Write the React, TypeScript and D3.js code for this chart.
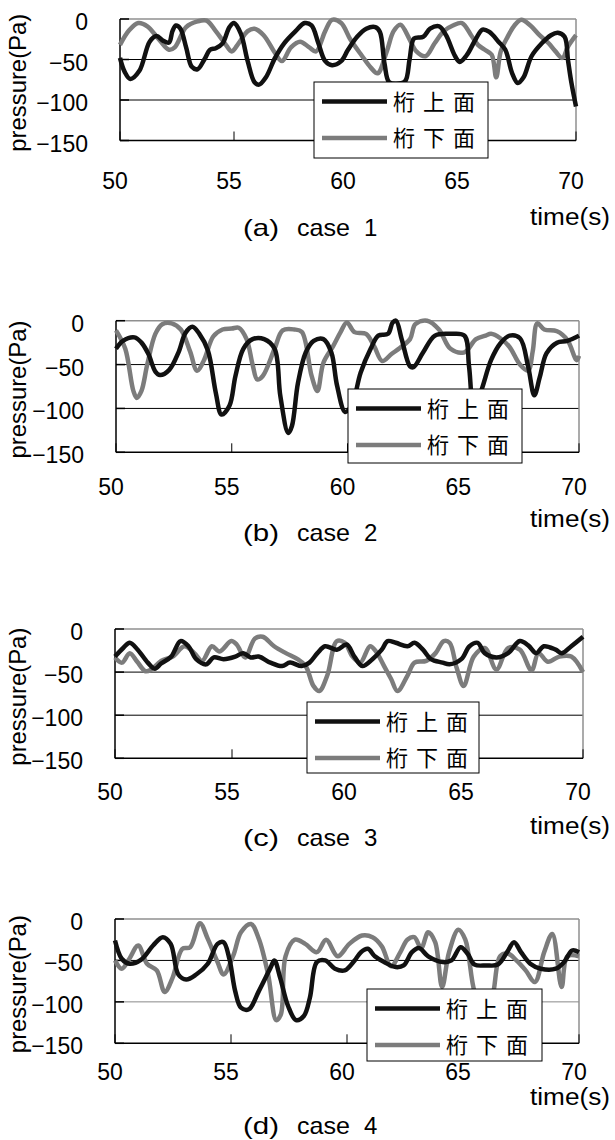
import React from 'react';
import * as d3 from 'd3';

// time (s), pressure (Pa)
const caseAUpper: [number, number][] = [
  [50.0, -48], [50.2, -65], [50.45, -74], [50.85, -64], [51.3, -28], [51.6, -21], [51.9, -27], [52.15, -29],
  [52.3, -15], [52.45, -8], [52.65, -12], [52.9, -35], [53.15, -59], [53.4, -62], [53.7, -50], [53.95, -38],
  [54.2, -36], [54.5, -30], [54.8, -10], [55.0, -5], [55.3, -18], [55.6, -52], [55.9, -78], [56.1, -81],
  [56.4, -72], [56.8, -48], [57.2, -30], [57.7, -15], [58.1, -5], [58.4, -8], [58.7, -30], [59.0, -52],
  [59.3, -57], [59.7, -52], [60.0, -38], [60.4, -22], [60.8, -12], [61.2, -10], [61.4, -16], [61.6, -55],
  [61.8, -78], [62.1, -80], [62.5, -77], [62.7, -50], [62.9, -24], [63.3, -22], [63.6, -12], [64.0, -9],
  [64.3, -20], [64.7, -46], [64.9, -53], [65.2, -45], [65.6, -25], [65.9, -13], [66.2, -16], [66.6, -28],
  [66.9, -38], [67.2, -67], [67.45, -79], [67.7, -72], [68.05, -46], [68.5, -30], [68.9, -20], [69.2, -17],
  [69.5, -22], [69.65, -51], [69.8, -79], [70.0, -108],
];
const caseALower: [number, number][] = [
  [50.0, -32], [50.4, -14], [50.8, -5], [51.2, -9], [51.7, -25], [52.15, -38], [52.4, -35], [52.9, -10],
  [53.4, -3], [53.8, -2], [54.2, -15], [54.6, -30], [54.9, -40], [55.2, -30], [55.6, -15], [55.9, -12],
  [56.3, -20], [56.8, -42], [57.1, -52], [57.5, -35], [57.9, -28], [58.3, -35], [58.6, -40], [59.0, -15],
  [59.3, -1], [59.7, -5], [60.1, -25], [60.6, -45], [61.0, -60], [61.3, -67], [61.7, -40], [62.0, -15],
  [62.3, -7], [62.7, -25], [63.0, -40], [63.4, -46], [63.8, -30], [64.2, -15], [64.6, -8], [65.0, -5],
  [65.4, -20], [65.7, -32], [66.0, -38], [66.3, -44], [66.5, -72], [66.7, -40], [67.0, -22], [67.3, -8],
  [67.6, -1], [68.0, -8], [68.4, -20], [68.8, -30], [69.1, -40], [69.4, -48], [69.65, -34], [70.0, -20],
];

const caseBUpper: [number, number][] = [
  [50.0, -32], [50.3, -23], [50.8, -19], [51.1, -25], [51.4, -38], [51.7, -58], [51.9, -62], [52.3, -56],
  [52.7, -36], [53.0, -14], [53.3, -7], [53.6, -15], [53.97, -34], [54.31, -82], [54.56, -107], [54.9, -97],
  [55.16, -63], [55.5, -32], [55.9, -21], [56.4, -21], [56.85, -32], [57.1, -86], [57.44, -128], [57.6, -120],
  [57.86, -71], [58.2, -36], [58.54, -23], [58.96, -21], [59.3, -36], [59.55, -74], [59.9, -104], [60.2, -95],
  [60.57, -59], [61.0, -32], [61.33, -17], [61.75, -15], [61.95, -2], [62.1, 0], [62.34, -21], [62.7, -52],
  [62.85, -53], [63.27, -36], [63.78, -17], [64.45, -15], [65.05, -17], [65.25, -52], [65.45, -95], [65.7, -85],
  [66.2, -45], [66.6, -26], [67.0, -17], [67.45, -20], [67.8, -52], [68.07, -85], [68.3, -65], [68.6, -37],
  [69.05, -25], [69.5, -23], [70.0, -17],
];
const caseBLower: [number, number][] = [
  [50.0, -11], [50.4, -32], [50.75, -80], [50.9, -88], [51.1, -80], [51.35, -50], [51.7, -15], [52.0, -4],
  [52.4, -3], [52.8, -10], [53.2, -35], [53.5, -57], [53.8, -45], [54.2, -18], [54.6, -10], [55.0, -9],
  [55.3, -8], [55.64, -21], [55.9, -50], [56.1, -67], [56.34, -63], [56.85, -32], [57.2, -11], [57.7, -10],
  [58.03, -13], [58.45, -63], [58.7, -80], [58.96, -48], [59.38, -29], [59.7, -13], [59.97, -2], [60.3, -13],
  [60.8, -15], [61.15, -29], [61.5, -46], [61.9, -38], [62.26, -31], [62.7, -21], [62.93, -4], [63.44, 0],
  [63.95, -10], [64.45, -32], [65.05, -36], [65.55, -21], [65.97, -17], [66.2, -15], [66.6, -20], [67.0, -30],
  [67.45, -50], [67.8, -57], [68.0, -35], [68.2, -3], [68.5, -10], [69.05, -12], [69.5, -22], [69.9, -45],
  [70.0, -40],
];

const caseCUpper: [number, number][] = [
  [50.0, -32], [50.35, -22], [50.63, -16], [50.97, -24], [51.4, -39], [51.7, -46], [51.97, -40], [52.4, -32],
  [52.8, -14], [53.14, -20], [53.47, -35], [53.9, -41], [54.22, -33], [54.64, -35], [55.14, -32], [55.48, -28],
  [55.8, -33], [56.14, -32], [56.64, -39], [57.14, -43], [57.48, -39], [57.98, -43], [58.31, -39], [58.65, -28],
  [58.98, -20], [59.48, -24], [59.9, -18], [60.23, -32], [60.57, -43], [61.0, -35], [61.4, -24], [61.65, -14],
  [62.0, -16], [62.5, -20], [62.8, -16], [63.16, -24], [63.5, -35], [64.0, -39], [64.3, -41], [64.8, -35],
  [65.15, -20], [65.5, -16], [65.8, -28], [66.3, -33], [66.8, -28], [67.3, -14], [67.66, -19], [68.0, -28],
  [68.33, -20], [68.83, -24], [69.1, -28], [69.5, -20], [70.0, -9],
];
const caseCLower: [number, number][] = [
  [50.0, -33], [50.3, -39], [50.63, -28], [50.95, -38], [51.3, -49], [51.55, -47], [51.97, -37], [52.47, -32],
  [52.97, -20], [53.39, -28], [53.72, -37], [54.14, -20], [54.47, -26], [54.97, -14], [55.2, -18], [55.56, -33],
  [55.98, -11], [56.31, -9], [56.8, -20], [57.3, -28], [57.8, -35], [58.15, -43], [58.48, -66], [58.73, -72],
  [59.07, -54], [59.48, -14], [59.82, -16], [60.15, -32], [60.48, -39], [60.9, -20], [61.15, -26], [61.5, -43],
  [61.8, -58], [62.07, -72], [62.5, -54], [62.8, -39], [63.3, -37], [63.7, -28], [64.05, -14], [64.3, -16],
  [64.6, -45], [64.9, -66], [65.33, -32], [65.8, -22], [66.3, -47], [66.8, -22], [67.3, -24], [67.8, -48],
  [68.1, -28], [68.5, -38], [68.99, -32], [69.5, -32], [70.0, -50],
];

const caseDUpper: [number, number][] = [
  [50.0, -26], [50.29, -48], [50.62, -54], [51.13, -49], [51.64, -32], [52.06, -22], [52.4, -30], [52.73, -67],
  [53.07, -73], [53.5, -67], [54.0, -54], [54.42, -30], [54.68, -28], [54.93, -48], [55.18, -87], [55.43, -107],
  [55.77, -109], [56.2, -87], [56.7, -59], [56.87, -50], [57.12, -71], [57.46, -105], [57.8, -122], [58.14, -117],
  [58.4, -95], [58.7, -52], [59.06, -50], [59.48, -60], [59.9, -62], [60.33, -50], [60.6, -40], [60.9, -36],
  [61.2, -45], [61.6, -52], [62.1, -58], [62.44, -56], [62.8, -40], [63.1, -35], [63.5, -45], [64.13, -52],
  [64.5, -50], [64.9, -34], [65.2, -42], [65.5, -55], [66.0, -56], [66.5, -55], [66.9, -40], [67.2, -28],
  [67.5, -40], [67.9, -54], [68.35, -60], [69.0, -60], [69.36, -52], [69.7, -38], [70.0, -40],
];
const caseDLower: [number, number][] = [
  [50.0, -50], [50.29, -60], [50.62, -48], [51.0, -32], [51.38, -54], [51.8, -62], [52.14, -88], [52.48, -71],
  [52.9, -36], [53.24, -34], [53.66, -5], [54.0, -24], [54.42, -52], [54.68, -67], [55.1, -44], [55.43, -16],
  [55.86, -6], [56.2, -24], [56.6, -67], [56.95, -122], [57.15, -115], [57.35, -45], [57.75, -25], [58.2, -30],
  [58.7, -40], [59.1, -25], [59.6, -45], [60.1, -30], [60.65, -20], [61.1, -22], [61.5, -33], [61.9, -57],
  [62.3, -40], [62.6, -25], [62.9, -22], [63.2, -35], [63.5, -16], [63.8, -28], [64.1, -82], [64.4, -40],
  [64.8, -13], [65.1, -25], [65.5, -88], [65.9, -110], [66.25, -95], [66.6, -45], [66.95, -42], [67.3, -50],
  [67.7, -62], [68.1, -76], [68.5, -40], [68.85, -18], [69.25, -82], [69.5, -45], [70.0, -45],
];

const xTicks = [50, 55, 60, 65, 70];
const yTicks = [0, -50, -100, -150];
const seriesNames = ['桁上面', '桁下面'];
const captionTags = ['(a)', '(b)', '(c)', '(d)'];
const caseNumbers = ['1', '2', '3', '4'];

const panels = [
  { upper: caseAUpper, lower: caseALower, left: 120, right: 576, top: 19, bottom: 140.5,
    legend: [314, 82, 174, 76], tickY: 189, timeY: 225, captionY: 236, grid2: '#000' },
  { upper: caseBUpper, lower: caseBLower, left: 116, right: 579, top: 320.7, bottom: 452.3,
    legend: [348, 389, 174, 74], tickY: 495, timeY: 527, captionY: 541, grid2: '#000' },
  { upper: caseCUpper, lower: caseCLower, left: 115, right: 583, top: 629, bottom: 758.3,
    legend: [307, 702, 172, 71], tickY: 800, timeY: 834, captionY: 846, grid2: '#000' },
  { upper: caseDUpper, lower: caseDLower, left: 115, right: 579, top: 919, bottom: 1043.3,
    legend: [367, 989, 175, 72], tickY: 1080, timeY: 1105, captionY: 1134, grid2: '#888' },
];

const DARK = '#111';
const GRAY = '#7c7c7c';
const FRAME_GRAY = '#8f8f8f';
const LATIN = '"Liberation Sans", Arial, sans-serif';
const CJK = '"Noto Sans CJK JP", sans-serif';

const Panel = ({ p, idx }: { p: typeof panels[number]; idx: number }) => {
  const x = d3.scaleLinear().domain([50, 70]).range([p.left, p.right]);
  const y = d3.scaleLinear().domain([-150, 0]).range([p.bottom, p.top]);
  const line = d3
    .line<[number, number]>()
    .x((d) => x(d[0]))
    .y((d) => y(d[1]))
    .curve(d3.curveCatmullRom.alpha(0.5));
  const [lx, ly, lw, lh] = p.legend;
  const midY = (p.top + p.bottom) / 2 + 3;

  return (
    <g>
      {/* gridlines */}
      <line x1={p.left} x2={p.right} y1={y(-50)} y2={y(-50)} stroke="#000" strokeWidth={1} />
      <line x1={p.left} x2={p.right} y1={y(-100)} y2={y(-100)} stroke={p.grid2} strokeWidth={1} />
      {/* frame: grey top/right, black left/bottom */}
      <line x1={p.left} x2={p.right} y1={p.top} y2={p.top} stroke={FRAME_GRAY} strokeWidth={1.5} />
      <line x1={p.right} x2={p.right} y1={p.top} y2={p.bottom} stroke={FRAME_GRAY} strokeWidth={1.5} />
      <line x1={p.left} x2={p.left} y1={p.top} y2={p.bottom} stroke="#000" strokeWidth={1.5} />
      <line x1={p.left} x2={p.right} y1={p.bottom} y2={p.bottom} stroke="#000" strokeWidth={1.5} />
      {/* inner ticks */}
      {xTicks.map((t) => (
        <line key={'xt' + t} x1={x(t)} x2={x(t)} y1={p.bottom} y2={p.bottom - 9} stroke="#000" strokeWidth={1} />
      ))}
      {yTicks.map((t) => (
        <line key={'yt' + t} x1={p.left} x2={p.left + 9} y1={y(t)} y2={y(t)} stroke="#000" strokeWidth={1.5} />
      ))}
      {/* series */}
      <path d={line(p.lower) || ''} fill="none" stroke={GRAY} strokeWidth={4.5} strokeLinejoin="round" />
      <path d={line(p.upper) || ''} fill="none" stroke={DARK} strokeWidth={4.5} strokeLinejoin="round" />
      {/* tick labels */}
      {xTicks.map((t) => (
        <text key={'xl' + t} x={x(t) - 5} y={p.tickY} textAnchor="middle" fontSize={23} fontFamily={LATIN}>
          {t}
        </text>
      ))}
      {yTicks.map((t) => (
        <text key={'yl' + t} x={p.left - 32} y={y(t) + 11} textAnchor="end" fontSize={23} fontFamily={LATIN}>
          {t < 0 ? '\u2212' + Math.abs(t) : t}
        </text>
      ))}
      {/* axis titles */}
      <text
        transform={`translate(25.5,${midY}) rotate(-90)`}
        textAnchor="middle"
        fontSize={24}
        fontFamily={LATIN}
        textLength={138}
        lengthAdjust="spacingAndGlyphs"
      >
        pressure(Pa)
      </text>
      <text
        x={610}
        y={p.timeY}
        textAnchor="end"
        fontSize={23}
        fontFamily={LATIN}
        textLength={80}
        lengthAdjust="spacingAndGlyphs"
      >
        time(s)
      </text>
      <g fontSize={24} fontFamily={LATIN}>
        <text x={243} y={p.captionY} textLength={36} lengthAdjust="spacingAndGlyphs">{captionTags[idx]}</text>
        <text x={297} y={p.captionY} textLength={53} lengthAdjust="spacingAndGlyphs">case</text>
        <text x={364} y={p.captionY}>{caseNumbers[idx]}</text>
      </g>
      {/* legend */}
      <rect x={lx} y={ly} width={lw} height={lh} fill="#fff" stroke="#000" strokeWidth={1} />
      {seriesNames.map((name, i) => {
        const rowY = ly + 19.5 + i * 36.5;
        return (
          <g key={name}>
            <line x1={lx + 8} x2={lx + 73} y1={rowY} y2={rowY} stroke={i === 0 ? DARK : GRAY} strokeWidth={4.5} />
            <text x={lx + 79} y={rowY + 8} fontSize={22} fontFamily={CJK} textLength={82} lengthAdjust="spacing">
              {name}
            </text>
          </g>
        );
      })}
    </g>
  );
};

export default function App() {
  return (
    <svg
      width={615}
      height={1140}
      style={{ position: 'absolute', left: 0, top: 0, background: '#fff' }}
    >
      <rect width={615} height={1140} fill="#fff" />
      {panels.map((p, i) => (
        <Panel key={i} p={p} idx={i} />
      ))}
    </svg>
  );
}
